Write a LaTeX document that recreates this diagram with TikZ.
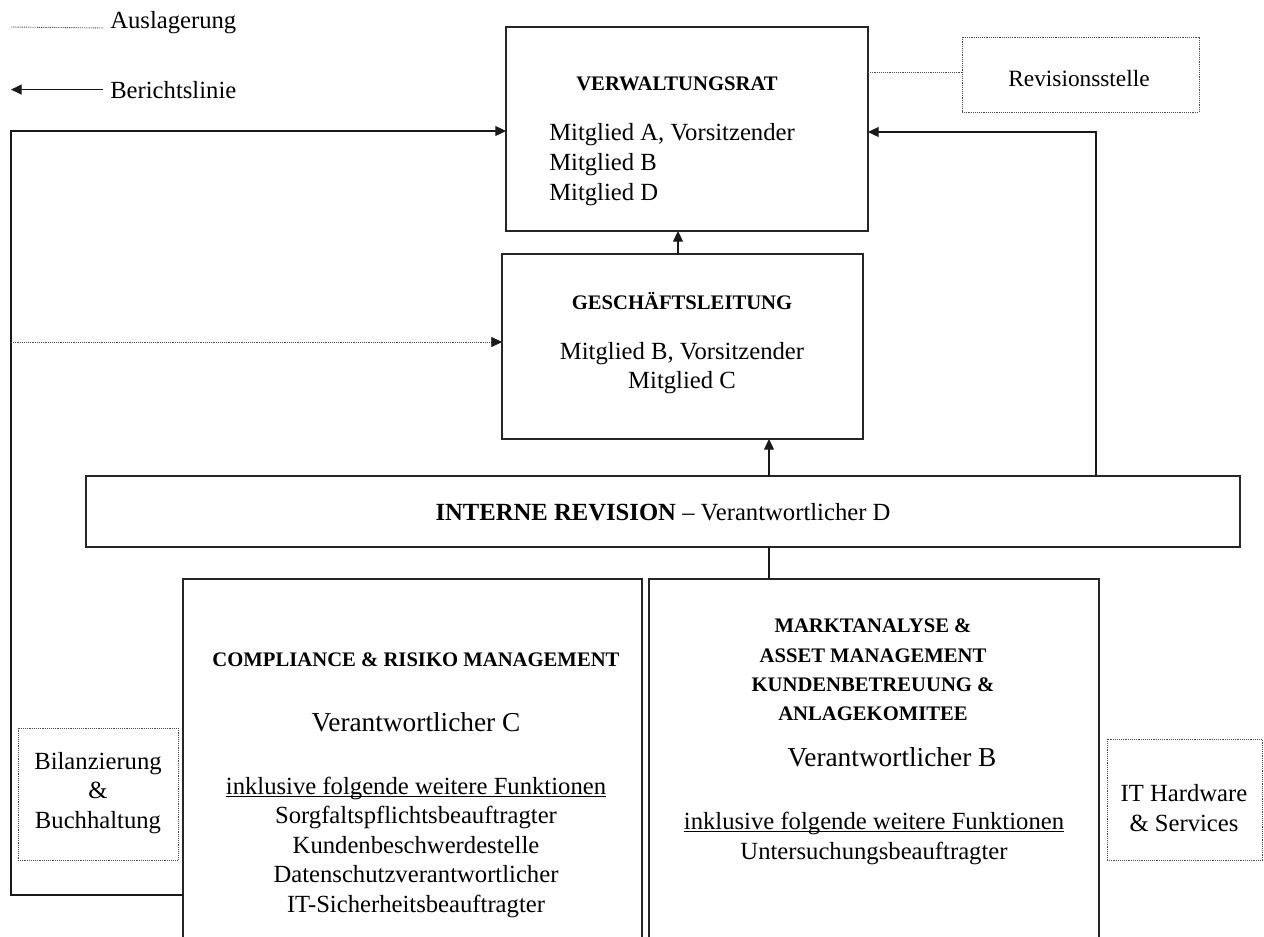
\documentclass[tikz,border=0pt]{standalone}
\usepackage{fontspec}
\setmainfont{Liberation Serif}
\usetikzlibrary{arrows.meta}
\newcommand\myul[1]{\underline{\smash{#1}}}
\tikzset{
  box/.style={draw=black!85, line width=1pt, inner sep=0pt, outer sep=0pt, rectangle},
  obox/.style={draw=black!70, line width=0.7pt, dash pattern=on 0.7pt off 0.7pt, inner sep=0pt, outer sep=0pt, rectangle},
  rep/.style={draw=black!90, line width=0.9pt, -{Triangle[length=8pt,width=7.5pt]}},
  plain/.style={draw=black!90, line width=0.9pt},
  outs/.style={draw=black!70, line width=0.7pt, dash pattern=on 0.7pt off 0.7pt},
  head/.style={font=\fontsize{15.5}{22}\selectfont\bfseries, align=center, inner sep=0pt},
  body/.style={font=\fontsize{18.5}{22.2}\selectfont, align=center, inner sep=0pt},
  big/.style={font=\fontsize{20.5}{24}\selectfont, align=center, inner sep=0pt},
}
\begin{document}
\begin{tikzpicture}[x=0.75pt,y=-0.75pt]
\path[use as bounding box] (0,0) rectangle (1264,936);
\clip (0,0) rectangle (1264,936);

% boxes
\node[box, minimum width=271.5pt, minimum height=153pt] (vr) at (687,129) {};
\node[box, minimum width=270.75pt, minimum height=138.75pt] (gl) at (682.5,346.5) {};
\node[box, minimum width=865.5pt, minimum height=53.25pt] (ir) at (663,511.5) {};
\node[box, minimum width=344.25pt, minimum height=285.75pt] (comp) at (412.5,769.5) {};
\node[box, minimum width=337.5pt, minimum height=285.75pt] (markt) at (874,769.5) {};
\node[obox, minimum width=177.75pt, minimum height=56.25pt] (rev) at (1080.5,74.5) {};
\node[obox, minimum width=120pt, minimum height=99pt] (bil) at (98,794) {};
\node[obox, minimum width=116.25pt, minimum height=90.75pt] (it) at (1184.5,799.5) {};

% legend
\node[body, anchor=base west] (leg1) at (110,28) {Auslagerung};
\node[body, anchor=base west] (leg2) at (110,98) {Berichtslinie};
\coordinate (l1) at (11,27);
\coordinate (l2) at (11,89);
\draw[outs] (l1) -- ([xshift=-5pt]leg1.base west);
\draw[rep] ([xshift=-5pt]leg2.west) -- (leg2.west -| l2);

% texts
\node[head] (vrt) at (677,84) {VERWALTUNGSRAT};
\node[body, align=left, anchor=west, font=\fontsize{18.5}{22.5}\selectfont] (vrm) at (549,165) {Mitglied A, Vorsitzender\\Mitglied B\\Mitglied D};
\node[head] (glt) at (682,301) {GESCHÄFTSLEITUNG};
\node[body] (glm) at (682,368) {Mitglied B, Vorsitzender\\Mitglied C};
\node[body] (irt) at (663,512) {\textbf{INTERNE REVISION} – Verantwortlicher D};
\node[head] (compt) at (416,660) {COMPLIANCE \& RISIKO MANAGEMENT};
\node[big] (compv) at (416,722) {Verantwortlicher C};
\node[body] (compl) at (416,856) {\myul{inklusive folgende weitere Funktionen}\\Sorgfaltspflichtsbeauftragter\\Kundenbeschwerdestelle\\Datenschutzverantwortlicher\\IT-Sicherheitsbeauftragter};
\node[head] (marktt) at (873,670) {MARKTANALYSE \&\\ASSET MANAGEMENT\\KUNDENBETREUUNG \&\\ANLAGEKOMITEE};
\node[big] (marktv) at (892,757) {Verantwortlicher B};
\node[body] (marktl) at (874,847) {\myul{inklusive folgende weitere Funktionen}\\Untersuchungsbeauftragter};
\node[body, font=\fontsize{17.5}{22}\selectfont] (revt) at (1079,79) {Revisionsstelle};
\node[body] (bilt) at (98,793) {Bilanzierung\\\&\\Buchhaltung};
\node[body] (itt) at (1184,808) {IT Hardware\\\& Services};

% connectors
\coordinate (c1) at (678,0);
\coordinate (c2) at (769,0);
\coordinate (c3) at (1096,132);
\coordinate (c4) at (0,72);
\coordinate (lt) at (11,131);
\coordinate (lb) at (11,895);
\coordinate (ld) at (11,342);
\draw[rep] (gl.north -| c1) -- (vr.south -| c1);
\draw[rep] (ir.north -| c2) -- (gl.south -| c2);
\draw[plain] (ir.south -| c2) -- (markt.north -| c2);
\draw[rep] (ir.north -| c3) -- (c3) -- (vr.east |- c3);
\draw[rep] (comp.west |- lb) -- (lb) -- (lt) -- (vr.west |- lt);
\draw[outs] (ld) -- (gl.west |- ld);
\draw[draw=black!90, -{Triangle[length=8pt,width=7.5pt]}] ([xshift=-6pt]gl.west |- ld) -- (gl.west |- ld);
\draw[outs] (vr.east |- c4) -- (rev.west |- c4);
\end{tikzpicture}
\end{document}
